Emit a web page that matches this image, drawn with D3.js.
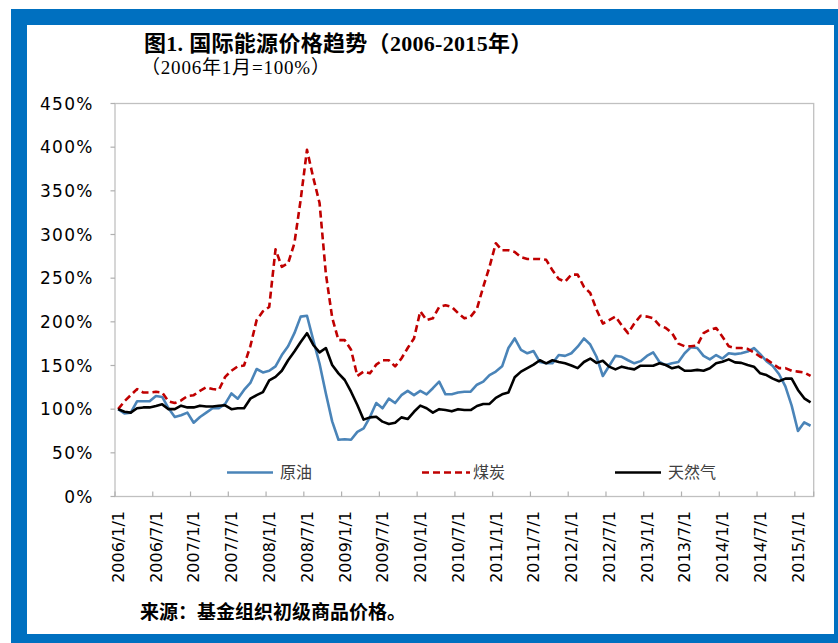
<!DOCTYPE html>
<html>
<head>
<meta charset="utf-8">
<script src="https://cdn.jsdelivr.net/npm/d3@7"></script>
<style>
body { margin: 0; background: #fff; }
.ylab { font-family: "DejaVu Sans", sans-serif; font-size: 17px; letter-spacing: 1.2px; fill: #000; }
.xlab { font-family: "DejaVu Sans", sans-serif; font-size: 16px; fill: #000; }
.legText { font-family: "Noto Sans CJK SC", sans-serif; font-size: 16px; fill: #404040; }
</style>
</head>
<body>
<div id="chart"></div>
<script>
// monthly index, 2006/1 = 100
var startMonth = new Date(2006, 0, 1), endMonth = new Date(2015, 3, 1);
var seriesNames = ["原油", "煤炭", "天然气"];
var yTicks = [0, 50, 100, 150, 200, 250, 300, 350, 400, 450];

var oil = [100, 95, 96, 109, 109, 109, 115, 114, 101, 91, 93, 96,
	84.5, 91, 96, 101, 101, 106, 118, 112, 122, 130, 146, 142,
	144, 149, 162, 172, 187, 206, 207, 179, 152, 118, 86, 65,
	65.5, 65, 74, 78, 91, 107, 101, 112, 107, 116, 121, 116,
	121, 117, 124, 131.5, 117, 117, 119, 120, 120, 128, 131.5, 139,
	143, 149, 170, 181, 168, 164, 166.5, 154, 152.5, 152.5, 162, 161,
	164, 171.5, 181, 174, 160, 138, 149.5, 161, 160, 156, 152.5, 155,
	161, 165, 154, 150.5, 152.5, 154, 164, 171, 170, 161, 157, 162,
	158, 164, 163, 164, 166, 170, 163, 155, 149.5, 140, 126, 104,
	75, 85, 81];
var coal = [100, 109, 116, 123, 119, 119, 120, 119, 109, 107, 110, 115,
	116, 121, 125, 123, 122, 137, 144, 149, 150, 172, 202, 212,
	217, 283, 263, 267, 290, 340, 397, 365, 336, 255, 205, 179,
	179, 168, 138, 143, 141, 151, 156, 156, 149, 158, 170, 181,
	212, 202, 204, 217, 219, 217, 210, 204, 206, 215, 240, 263,
	290, 282, 282, 280, 274, 272, 272, 272, 271, 259, 249, 246,
	254, 254, 240, 233, 214, 198, 202, 206, 196, 187, 198, 207,
	206, 204, 196, 193, 187, 175, 172, 172, 173, 187, 191, 193,
	183, 172, 170, 170, 169, 165, 160, 157, 152, 147, 147, 144,
	143, 142, 138];
var gas = [100, 97, 96, 101, 102, 102, 103.6, 105.5, 100, 100, 104, 102,
	102, 104, 103, 103, 104, 104.4, 100, 101, 101, 112, 116, 119.6,
	133, 137, 144, 156, 166, 177, 187, 173.5, 165, 170, 150.6, 141,
	133.4, 120, 104.8, 88, 90.6, 91.4, 85.7, 83, 84.5, 90.6, 88.7, 97,
	104, 101, 96, 100, 99, 97.5, 100, 99, 99, 103.6, 106, 106,
	113, 117, 119, 136.5, 143, 147, 151, 156, 152.5, 156, 154, 152.5,
	150, 147, 154, 158, 153, 155.5, 148.7, 145.6, 148.7, 146.8, 145.6, 149.8,
	149.8, 149.8, 152.5, 150.6, 146.8, 148.7, 144, 144, 145, 144, 146.8, 152.5,
	154.4, 157, 153.6, 153, 150.6, 148.7, 141, 139, 135, 132, 135, 135,
	122, 112.4, 107.8];

var width = 838, height = 643;
var fmt = d3.timeFormat("%Y/%-m/%-d");
var months = d3.timeMonth.range(startMonth, endMonth).map(fmt);

var svg = d3.select("#chart").append("svg")
	.attr("width", width)
	.attr("height", height);

//blue frame
svg.append("rect").attr("x", 11).attr("y", 9).attr("width", 840).attr("height", 650).attr("fill", "#0070c0");
svg.append("rect").attr("x", 27).attr("y", 25).attr("width", 807).attr("height", 609).attr("fill", "#fff");

//titles
svg.append("text")
	.attr("x", 144).attr("y", 51)
	.style("font-family", "'Liberation Serif', 'Noto Sans CJK SC', serif")
	.style("font-weight", "bold")
	.style("font-size", "22px")
	.style("letter-spacing", "0.3px")
	.text("图1. 国际能源价格趋势（2006-2015年）");
svg.append("text")
	.attr("x", 141).attr("y", 74)
	.style("font-family", "'Liberation Serif', 'Noto Sans CJK SC', serif")
	.style("font-size", "19px")
	.style("letter-spacing", "0.8px")
	.text("（2006年1月=100%）");

//scales
var x = d3.scaleBand().domain(months).range([115, 813.7]);
var bw = x.bandwidth();
var y = d3.scaleLinear().domain([0, 450]).range([496.5, 103.5]);

//plot box
svg.append("rect")
	.attr("x", 115).attr("y", y(450))
	.attr("width", 813.7 - 115).attr("height", y(0) - y(450))
	.attr("fill", "none").attr("stroke", "#c0c0c0").attr("stroke-width", 1.3);

//y axis ticks + labels
svg.selectAll(".ytick").data(yTicks).enter().append("line")
	.attr("x1", 110.5).attr("x2", 115)
	.attr("y1", function(d) { return y(d); }).attr("y2", function(d) { return y(d); })
	.attr("stroke", "#b0b0b0").attr("stroke-width", 1.2);
svg.selectAll(".ylab").data(yTicks).enter().append("text")
	.attr("class", "ylab")
	.attr("x", 93.5)
	.attr("y", function(d) { return y(d); })
	.attr("dy", "0.36em")
	.attr("text-anchor", "end")
	.text(function(d) { return d + "%"; });

//x axis ticks every 6 months (on category boundaries)
var tickMonths = months.filter(function(d, i) { return i % 6 === 0; });
svg.selectAll(".xtick").data(tickMonths.concat(["end"])).enter().append("line")
	.attr("x1", function(d) { return d === "end" ? 813.7 : x(d); })
	.attr("x2", function(d) { return d === "end" ? 813.7 : x(d); })
	.attr("y1", y(0)).attr("y2", y(0) - 5)
	.attr("stroke", "#b0b0b0").attr("stroke-width", 1.2);
svg.selectAll(".xlab").data(tickMonths).enter().append("text")
	.attr("class", "xlab")
	.attr("transform", function(d) { return "translate(" + (x(d) + bw / 2) + ",511) rotate(-90)"; })
	.attr("dy", "0.36em")
	.attr("text-anchor", "end")
	.text(function(d) { return d; });

//lines
var styles = [
	{ data: oil, color: "#4a84b8", dash: null },
	{ data: coal, color: "#c00000", dash: "7,4" },
	{ data: gas, color: "#000000", dash: null }
];
var line = d3.line()
	.x(function(d, i) { return x(months[i]) + bw / 2; })
	.y(function(d) { return y(d); });

styles.forEach(function(s) {
	svg.append("path")
		.datum(s.data)
		.attr("d", line)
		.attr("fill", "none")
		.attr("stroke", s.color)
		.attr("stroke-width", 2.6)
		.attr("stroke-linejoin", "round")
		.attr("stroke-dasharray", s.dash);
});

//legend
var legX = [227, 422, 615];
var legend = svg.selectAll(".leg").data(styles).enter().append("g")
	.attr("transform", function(d, i) { return "translate(" + legX[i] + ",472.5)"; });
legend.append("line")
	.attr("x1", 0).attr("x2", function(d, i) { return i === 1 ? 48 : 46; })
	.attr("stroke", function(d) { return d.color; })
	.attr("stroke-width", 2.6)
	.attr("stroke-dasharray", function(d) { return d.dash; });
legend.append("text")
	.attr("class", "legText")
	.attr("x", function(d, i) { return i === 1 ? 51 : 53; })
	.attr("dy", "0.36em")
	.text(function(d, i) { return seriesNames[i]; });

//source
svg.append("text")
	.attr("x", 140).attr("y", 612)
	.attr("dy", "0.36em")
	.style("font-family", "'Noto Sans CJK SC', sans-serif")
	.style("font-weight", "bold")
	.style("font-size", "19px")
	.text("来源：基金组织初级商品价格。");
</script>
</body>
</html>
